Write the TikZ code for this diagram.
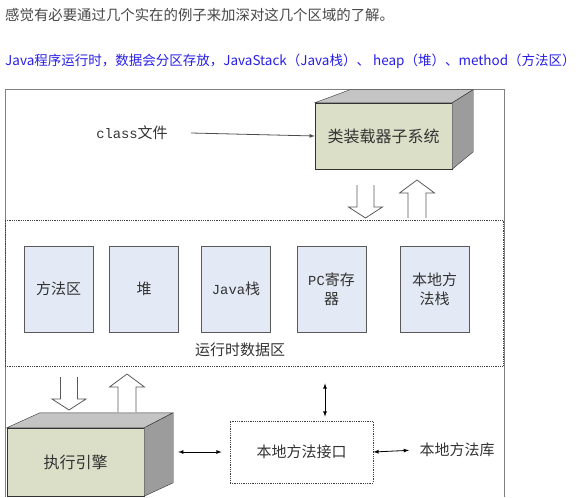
\documentclass[tikz,border=0pt]{standalone}
\usepackage{fontspec}
\setmainfont{Noto Sans CJK SC}
\newfontfamily\lat[Scale=0.92]{Liberation Mono}
\usetikzlibrary{positioning}

\definecolor{frontcol}{HTML}{DCDFC7}
\definecolor{topcol}{HTML}{C4C4C4}
\definecolor{sidecol}{HTML}{9C9C9C}
\definecolor{areacol}{HTML}{E4EAF5}
\definecolor{txtcol}{HTML}{333333}
\definecolor{linkblue}{RGB}{40,30,230}

\tikzset{
  front/.style={draw=black!80, fill=frontcol, minimum width=137pt, font=\fontsize{16}{18}\selectfont, text=txtcol},
  area/.style={draw=black!65, fill=areacol, thick, minimum width=69pt, minimum height=86pt, align=center, font=\fontsize{15}{19}\selectfont, text=txtcol},
  dotbox/.style={draw=black!75, densely dotted, thick},
  hollow/.style={draw=black!65, fill=white, line width=0.8pt},
  lbl/.style={font=\fontsize{15}{18}\selectfont, text=txtcol}
}

% hollow arrows, given top centre / bottom centre
\newcommand{\hdown}[2]{\draw[hollow] (#1-8.5,#2) -- ++(0,22) -- ++(-8.5,0) -- ++(17,11) -- ++(17,-11) -- ++(-8.5,0) -- ++(0,-22);}
\newcommand{\hup}[2]{\draw[hollow] (#1-9,#2) -- ++(0,-25) -- ++(-8.5,0) -- ++(17.5,-13) -- ++(17.5,13) -- ++(-8.5,0) -- ++(0,25);}

\begin{document}
\begin{tikzpicture}[x=1pt, y=-1pt]
        \useasboundingbox (0,0) rectangle (585,497);

        % Header lines
        \node[anchor=west, inner sep=0, text=black!72, font=\fontsize{14.4}{17}\selectfont] (head) at (5,15) {感觉有必要通过几个实在的例子来加深对这几个区域的了解。};
        \node[anchor=west, inner sep=0, text=linkblue, font=\fontsize{13.5}{16}\selectfont] (sub) at (5,61) {Java程序运行时，数据会分区存放，JavaStack（Java栈）、 heap（堆）、method（方法区）};

        % Outer frame
        \draw[black!50, line width=0.8pt] (5,497) -- (5,89) -- (504,89) -- (504,497);

        % Draw nodes
        \node[lbl] (cls) at (132,133) {{\lat class}文件};
        \node[front, minimum height=66pt] (loader) at (383.5,136) {类装载器子系统};
        \node[dotbox, minimum width=498pt, minimum height=146pt] (rda) at (254,293) {};
        \node[area] (method) at (58.5,289) {方法区};
        \node[area] (heap) at (144,289) {堆};
        \node[area] (jstack) at (236,289) {{\lat Java}栈};
        \node[area] (pc) at (331.5,289) {{\lat PC}寄存\\器};
        \node[area] (nstack) at (434.5,289) {本地方\\法栈};
        \node[lbl] (rdalabel) at (240,350) {运行时数据区};
        \node[front, minimum height=68pt] (engine) at (75.5,462) {执行引擎};
        \node[dotbox, minimum width=143pt, minimum height=62pt, lbl] (nif) at (301.5,452) {本地方法接口};
        \node[lbl] (lib) at (457,450) {本地方法库};

        % 3D faces
        \draw[black!80, fill=topcol] (loader.north west) -- ++(35,-13) -- ++(123,0) -- (loader.north east) -- cycle;
        \draw[black!80, fill=sidecol] (loader.north east) -- ++(21,-13) -- ++(0,62) -- (loader.south east) -- cycle;
        \draw[black!80, fill=topcol] (engine.north west) -- ++(33,-15) -- ++(133,0) -- (engine.north east) -- cycle;
        \draw[black!80, fill=sidecol] (engine.north east) -- ++(29,-15) -- ++(0,70) -- (engine.south east) -- cycle;

        % Draw connections
        \draw[-latex, black!70, thick] ([xshift=20pt]cls.east) -- (loader.west);
        \draw[latex-latex, thick] (engine.east |- nif.west) -- (nif.west) [shorten <=34pt, shorten >=8pt];
        \draw[latex-latex, thick, shorten <=17pt, shorten >=4pt] ([xshift=23.5pt]nif.north |- rda.south) -- ([xshift=23.5pt]nif.north);
        \draw[latex-latex, thick, shorten >=7pt] (nif.east) -- (lib.west);

        % Hollow arrows
        \hdown{365.5}{185}
        \hup{417}{218}
        \hdown{69}{377}
        \hup{127}{412}
    \end{tikzpicture}
\end{document}
